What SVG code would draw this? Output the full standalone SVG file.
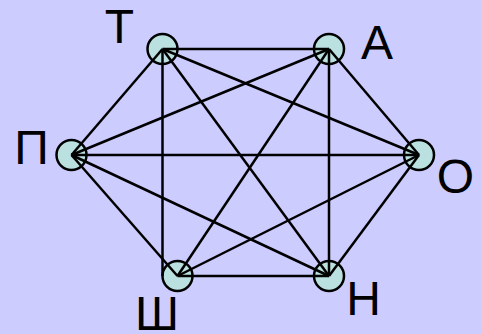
<svg xmlns="http://www.w3.org/2000/svg" width="481" height="334" viewBox="0 0 481 334">
<style>
.n{fill:#BBE0E0;stroke:#000;stroke-width:2.5}
.e line{stroke:#000;stroke-width:2.5}
.t{font-family:"Liberation Sans",Arial,sans-serif;font-size:48px;fill:#000;text-anchor:middle}
</style>
<rect width="481" height="334" fill="#CCCCFF"/>
<g id="node-T"><circle class="n" cx="162.5" cy="49" r="15"/><text class="t" x="119.5" y="43">Т</text></g>
<g id="node-A"><circle class="n" cx="329" cy="49" r="15"/><text class="t" x="377" y="59">А</text></g>
<g id="node-O"><circle class="n" cx="419" cy="155" r="15"/><text class="t" x="455.5" y="193">О</text></g>
<g id="node-H"><circle class="n" cx="329" cy="276" r="15"/><text class="t" x="363.5" y="315">Н</text></g>
<g id="node-Sh"><circle class="n" cx="177.5" cy="276" r="15"/><text class="t" x="157" y="330">Ш</text></g>
<g id="node-P"><circle class="n" cx="71.5" cy="155" r="15"/><text class="t" x="31.5" y="164">П</text></g>
<g class="e" id="edges">
<line x1="162.5" y1="49" x2="329" y2="49"/>
<line x1="162.5" y1="49" x2="419" y2="155"/>
<line x1="162.5" y1="49" x2="329" y2="276"/>
<line x1="162.5" y1="49" x2="162.5" y2="276"/>
<line x1="162.5" y1="49" x2="71.5" y2="155"/>
<line x1="329" y1="49" x2="419" y2="155"/>
<line x1="329" y1="49" x2="329" y2="276"/>
<line x1="329" y1="49" x2="177.5" y2="276"/>
<line x1="329" y1="49" x2="71.5" y2="155"/>
<line x1="419" y1="155" x2="329" y2="276"/>
<line x1="419" y1="155" x2="177.5" y2="276"/>
<line x1="419" y1="155" x2="71.5" y2="155"/>
<line x1="329" y1="276" x2="177.5" y2="276"/>
<line x1="329" y1="276" x2="71.5" y2="155"/>
<line x1="177.5" y1="276" x2="71.5" y2="155"/>
</g>
</svg>
